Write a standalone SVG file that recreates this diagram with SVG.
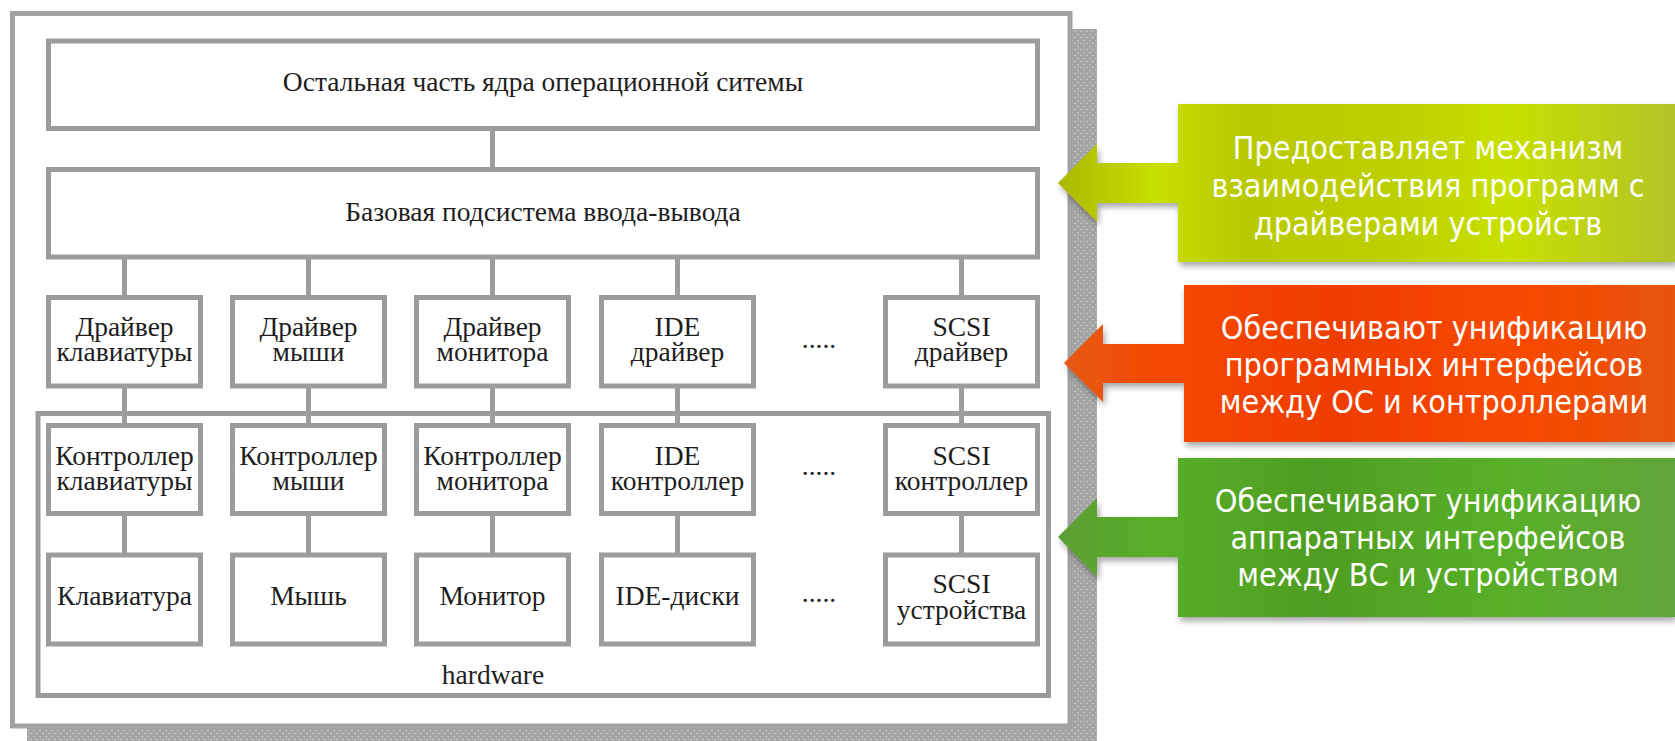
<svg xmlns="http://www.w3.org/2000/svg" width="1675" height="741" viewBox="0 0 1675 741">
<defs>
<style>
.box{fill:#fff;stroke:#9c9c9c;stroke-width:5}
.frame{fill:#fff;stroke:#a2a2a2;stroke-width:5}
.hw{fill:none;stroke:#9c9c9c;stroke-width:5}
.conn line{stroke:#9c9c9c;stroke-width:5}
.t{font-family:"Liberation Serif","Times New Roman",serif;font-size:27.5px;fill:#1e1e1e;text-anchor:middle}
.c{font-family:"DejaVu Sans Condensed","DejaVu Sans",sans-serif;font-stretch:condensed;font-size:32px;fill:#fff;text-anchor:middle}
</style>
<pattern id="dots" width="6" height="6" patternUnits="userSpaceOnUse">
<rect width="6" height="6" fill="#a3a3a3"/>
<circle cx="1" cy="1.5" r="0.8" fill="#d6d6d6"/>
<circle cx="4" cy="4.5" r="0.8" fill="#d0d0d0"/>
<circle cx="4.5" cy="0.8" r="0.5" fill="#c4c4c4"/>
</pattern>
<linearGradient id="gY" gradientUnits="userSpaceOnUse" x1="1058" y1="0" x2="1675" y2="0">
<stop offset="0" stop-color="#a9b800"/>
<stop offset="0.16" stop-color="#c8e000"/>
<stop offset="0.3" stop-color="#b9c900"/>
<stop offset="0.55" stop-color="#bdd000"/>
<stop offset="0.73" stop-color="#c8e000"/>
<stop offset="1" stop-color="#b3c32a"/>
</linearGradient>
<linearGradient id="gO" gradientUnits="userSpaceOnUse" x1="1064" y1="0" x2="1675" y2="0">
<stop offset="0" stop-color="#e65a14"/>
<stop offset="0.16" stop-color="#f64800"/>
<stop offset="0.45" stop-color="#ef3d00"/>
<stop offset="0.75" stop-color="#f84a00"/>
<stop offset="1" stop-color="#e6540c"/>
</linearGradient>
<linearGradient id="gG" gradientUnits="userSpaceOnUse" x1="1058" y1="0" x2="1675" y2="0">
<stop offset="0" stop-color="#5c9e34"/>
<stop offset="0.16" stop-color="#58b028"/>
<stop offset="0.42" stop-color="#4f9d22"/>
<stop offset="0.72" stop-color="#58b028"/>
<stop offset="1" stop-color="#60a43a"/>
</linearGradient>
<filter id="sh" x="-5%" y="-10%" width="115%" height="130%">
<feDropShadow dx="2" dy="4" stdDeviation="3" flood-color="#000" flood-opacity="0.35"/>
</filter>
</defs>
<rect width="1675" height="741" fill="#fff"/>

<g id="frame">
<rect x="27" y="29" width="1070" height="720" fill="url(#dots)"/>
<rect class="frame" x="12.5" y="13.5" width="1057.5" height="712.5"/>
</g>
<g id="hardware">
<rect class="hw" x="38" y="413.5" width="1010.5" height="282"/>
<text class="t" x="493" y="684">hardware</text>
</g>

<g class="conn" id="connectors">
<line x1="492.5" y1="128.5" x2="492.5" y2="169.5"/>
<line x1="124.5" y1="257" x2="124.5" y2="297.5"/>
<line x1="308.5" y1="257" x2="308.5" y2="297.5"/>
<line x1="492.5" y1="257" x2="492.5" y2="297.5"/>
<line x1="677.5" y1="257" x2="677.5" y2="297.5"/>
<line x1="961.5" y1="257" x2="961.5" y2="297.5"/>
<line x1="124.5" y1="386" x2="124.5" y2="425.5"/>
<line x1="308.5" y1="386" x2="308.5" y2="425.5"/>
<line x1="492.5" y1="386" x2="492.5" y2="425.5"/>
<line x1="677.5" y1="386" x2="677.5" y2="425.5"/>
<line x1="961.5" y1="386" x2="961.5" y2="425.5"/>
<line x1="124.5" y1="513.5" x2="124.5" y2="555"/>
<line x1="308.5" y1="513.5" x2="308.5" y2="555"/>
<line x1="492.5" y1="513.5" x2="492.5" y2="555"/>
<line x1="677.5" y1="513.5" x2="677.5" y2="555"/>
<line x1="961.5" y1="513.5" x2="961.5" y2="555"/>
</g>

<g id="kernel">
<rect class="box" x="48.5" y="41" width="989" height="87.5"/>
<text class="t" x="543" y="91">Остальная часть ядра операционной ситемы</text>
</g>
<g id="io-subsystem">
<rect class="box" x="48.5" y="169.5" width="989" height="87.5"/>
<text class="t" x="543" y="221">Базовая подсистема ввода-вывода</text>
</g>

<g id="drv-kbd"><rect class="box" x="48.5" y="297.5" width="152" height="88.5"/><text class="t" x="124.5" y="335.5">Драйвер<tspan x="124.5" dy="25">клавиатуры</tspan></text></g>
<g id="drv-mouse"><rect class="box" x="232.5" y="297.5" width="152" height="88.5"/><text class="t" x="308.5" y="335.5">Драйвер<tspan x="308.5" dy="25">мыши</tspan></text></g>
<g id="drv-mon"><rect class="box" x="416.5" y="297.5" width="152" height="88.5"/><text class="t" x="492.5" y="335.5">Драйвер<tspan x="492.5" dy="25">монитора</tspan></text></g>
<g id="drv-ide"><rect class="box" x="601.5" y="297.5" width="152" height="88.5"/><text class="t" x="677.5" y="335.5">IDE<tspan x="677.5" dy="25">драйвер</tspan></text></g>
<g id="drv-dots"><text class="t" x="819" y="348">.....</text></g>
<g id="drv-scsi"><rect class="box" x="885.5" y="297.5" width="152" height="88.5"/><text class="t" x="961.5" y="335.5">SCSI<tspan x="961.5" dy="25">драйвер</tspan></text></g>

<g id="ctl-kbd"><rect class="box" x="48.5" y="425.5" width="152" height="88"/><text class="t" x="124.5" y="465">Контроллер<tspan x="124.5" dy="25">клавиатуры</tspan></text></g>
<g id="ctl-mouse"><rect class="box" x="232.5" y="425.5" width="152" height="88"/><text class="t" x="308.5" y="465">Контроллер<tspan x="308.5" dy="25">мыши</tspan></text></g>
<g id="ctl-mon"><rect class="box" x="416.5" y="425.5" width="152" height="88"/><text class="t" x="492.5" y="465">Контроллер<tspan x="492.5" dy="25">монитора</tspan></text></g>
<g id="ctl-ide"><rect class="box" x="601.5" y="425.5" width="152" height="88"/><text class="t" x="677.5" y="465">IDE<tspan x="677.5" dy="25">контроллер</tspan></text></g>
<g id="ctl-dots"><text class="t" x="819" y="475">.....</text></g>
<g id="ctl-scsi"><rect class="box" x="885.5" y="425.5" width="152" height="88"/><text class="t" x="961.5" y="465">SCSI<tspan x="961.5" dy="25">контроллер</tspan></text></g>

<g id="dev-kbd"><rect class="box" x="48.5" y="555" width="152" height="89"/><text class="t" x="124.5" y="605">Клавиатура</text></g>
<g id="dev-mouse"><rect class="box" x="232.5" y="555" width="152" height="89"/><text class="t" x="308.5" y="605">Мышь</text></g>
<g id="dev-mon"><rect class="box" x="416.5" y="555" width="152" height="89"/><text class="t" x="492.5" y="605">Монитор</text></g>
<g id="dev-ide"><rect class="box" x="601.5" y="555" width="152" height="89"/><text class="t" x="677.5" y="605">IDE-диски</text></g>
<g id="dev-dots"><text class="t" x="819" y="602">.....</text></g>
<g id="dev-scsi"><rect class="box" x="885.5" y="555" width="152" height="89"/><text class="t" x="961.5" y="593">SCSI<tspan x="961.5" dy="26">устройства</tspan></text></g>

<g id="callout-io">
<path d="M1058,183 L1097,144 L1097,163 L1178,163 L1178,104 L1675,104 L1675,262 L1178,262 L1178,203 L1097,203 L1097,222 Z" fill="url(#gY)" filter="url(#sh)"/>
<text class="c" x="1428" y="159">Предоставляет механизм<tspan x="1428" dy="38">взаимодействия программ с</tspan><tspan x="1428" dy="38">драйверами устройств</tspan></text>
</g>
<g id="callout-drivers">
<path d="M1064,363 L1103,324 L1103,344 L1184,344 L1184,285 L1675,285 L1675,442 L1184,442 L1184,383 L1103,383 L1103,402 Z" fill="url(#gO)" filter="url(#sh)"/>
<text class="c" x="1434" y="339">Обеспечивают унификацию<tspan x="1434" dy="37">программных интерфейсов</tspan><tspan x="1434" dy="37">между ОС и контроллерами</tspan></text>
</g>
<g id="callout-controllers">
<path d="M1058,537 L1097,498 L1097,517 L1178,517 L1178,458 L1675,458 L1675,617 L1178,617 L1178,557 L1097,557 L1097,577 Z" fill="url(#gG)" filter="url(#sh)"/>
<text class="c" x="1428" y="512">Обеспечивают унификацию<tspan x="1428" dy="37">аппаратных интерфейсов</tspan><tspan x="1428" dy="37">между ВС и устройством</tspan></text>
</g>
</svg>
